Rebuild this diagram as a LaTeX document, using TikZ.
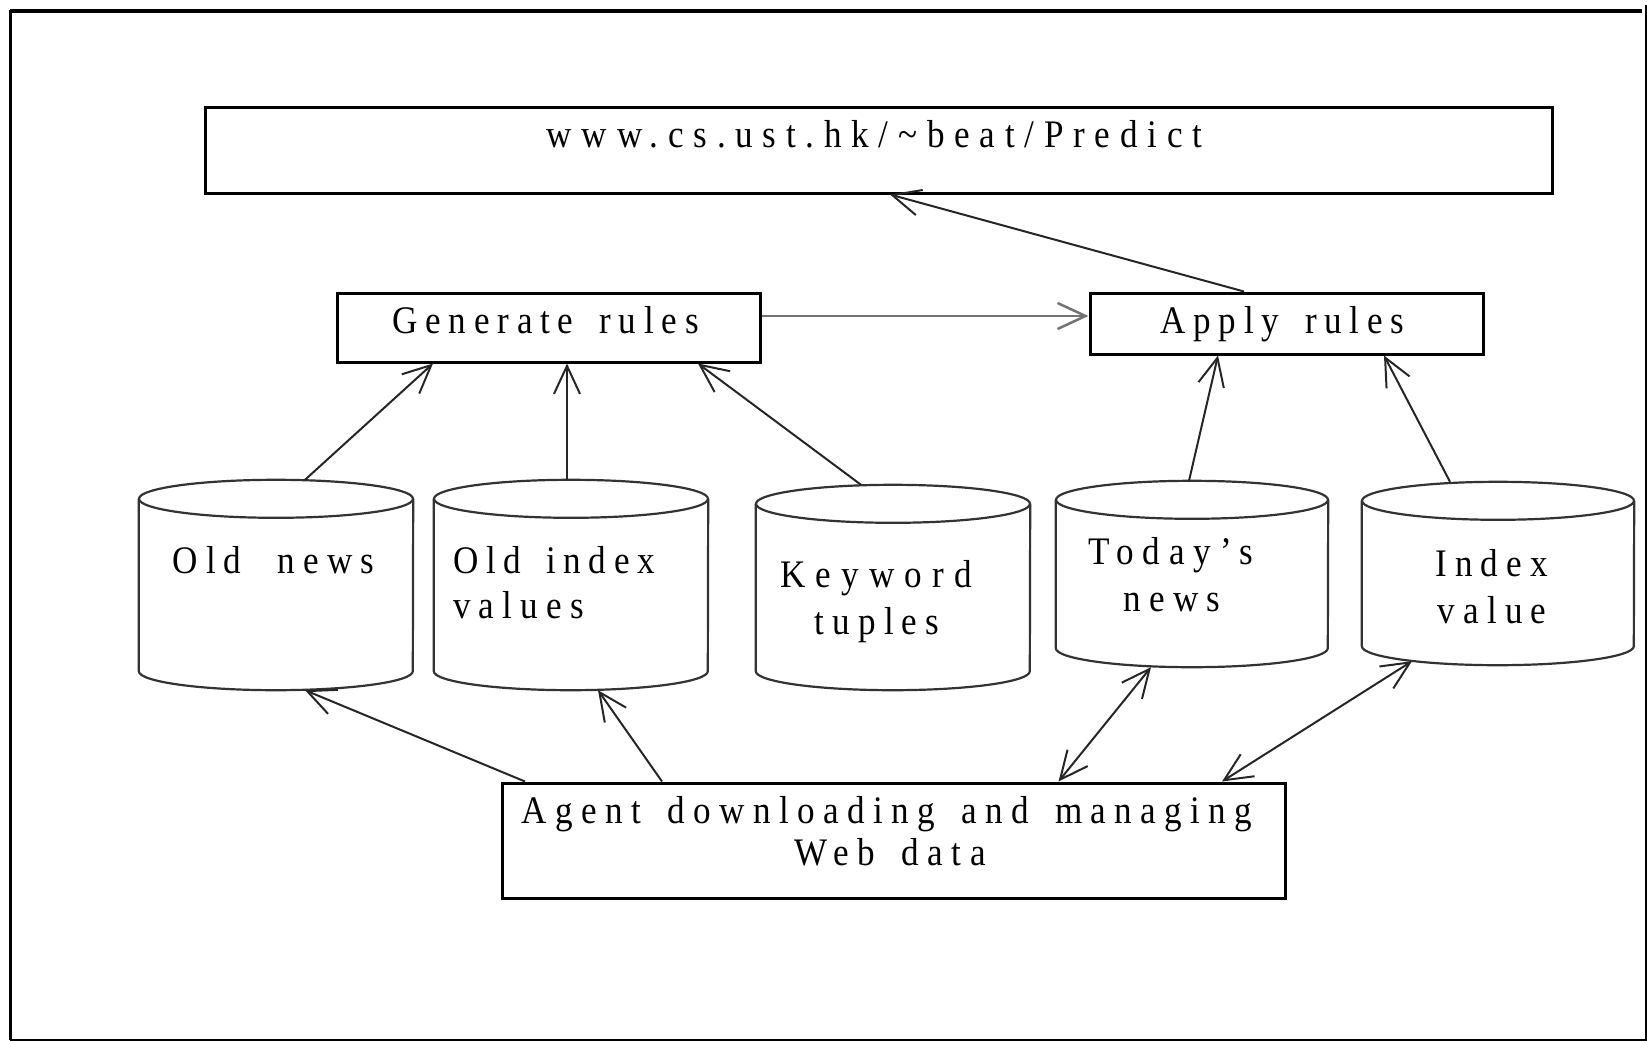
\documentclass[tikz,border=0pt]{standalone}
\usepackage{fontspec}
\setmainfont{Liberation Serif}[FakeStretch=0.9]
\newfontfamily\labfont{Liberation Serif}[FakeStretch=0.9, WordSpace=1.55, Ligatures=TeX]
\usetikzlibrary{arrows.meta,calc}

% cylinder outline drawn around an invisible node: #1 node name, #2 half width
\newcommand\drawcyl[2]{%
  \draw[cylline] ([yshift=-19pt]#1.north) ellipse [x radius=#2pt, y radius=19pt];
  \draw[cylline] ([yshift=-19pt]#1.north west) -- ([yshift=19pt]#1.south west)
    arc[start angle=180, end angle=360, x radius=#2pt, y radius=19pt]
    -- ([yshift=-19pt]#1.north east);
}

\begin{document}
\begin{tikzpicture}[x=1pt,y=-1pt,
  box/.style={draw=black, line width=3pt, inner sep=0pt, rectangle},
  cylbox/.style={inner sep=0pt, rectangle},
  cylline/.style={draw=black!80, line width=2.2pt},
  lab/.style={inner sep=0pt, anchor=base,
    font=\labfont\addfontfeature{LetterSpace=#1}\fontsize{39}{46}\selectfont},
  lab/.default=21,
  conn/.style={draw=black!85, line width=2pt,
    -{Straight Barb[length=28pt,width=26pt]}},
  twoway/.style={conn,
    {Straight Barb[length=28pt,width=26pt]}-{Straight Barb[length=28pt,width=26pt]}},
]
\useasboundingbox (0,0) rectangle (1647,1041);

% outer frame
\draw[line width=3.5pt] (9.5,11) -- (1642,11);
\draw[line width=2.7pt] (10.7,10) -- (10.7,1040);
\draw[line width=2pt] (1646,5) -- (1646,1041);
\draw[line width=1.5pt] (10,1040.2) -- (1647,1040.2);

% boxes
\node[box, minimum width=1347pt, minimum height=86pt] (web) at (878.5,150) {};
\node[box, minimum width=423pt, minimum height=69pt] (gen) at (548.5,327.5) {};
\node[box, minimum width=393pt, minimum height=61pt] (app) at (1286.5,323.5) {};
\node[box, minimum width=783pt, minimum height=115pt] (agt) at (893.5,840.5) {};

% data stores
\node[cylbox, minimum width=274pt, minimum height=210pt] (on) at (276,585) {};
\node[cylbox, minimum width=274pt, minimum height=210pt] (oi) at (571,585) {};
\node[cylbox, minimum width=274pt, minimum height=205pt] (kw) at (893,587.5) {};
\node[cylbox, minimum width=272pt, minimum height=186pt] (tn) at (1192,574) {};
\node[cylbox, minimum width=272pt, minimum height=183pt] (iv) at (1498,573.5) {};
\drawcyl{on}{137}
\drawcyl{oi}{137}
\drawcyl{kw}{137}
\drawcyl{tn}{136}
\drawcyl{iv}{136}

% labels
\node[lab=25] (webt) at (874.5,147) {www.cs.ust.hk/\textasciitilde beat/Predict};
\node[lab=20] (gent) at (545.5,333) {Generate rules};
\node[lab=20] (appt) at (1282.5,333) {Apply rules};
\node[lab=21.5] (agt1) at (887,823) {Agent downloading and managing};
\node[lab=22] (agt2) at (890,865) {Web data};
\node[lab] (ont) at (273.5,573) {Old \hspace{10pt}news};
\node[lab=19.5, anchor=base west] (oi1) at (453,573) {Old index};
\node[lab, anchor=base west] (oi2) at (453,618) {values};
\node[lab=26] (kw1) at (876,587) {Keyword};
\node[lab] (kw2) at (877,634) {tuples};
\node[lab=23] (tn1) at (1170.5,564) {Today’s};
\node[lab] (tn2) at (1172,611) {news};
\node[lab] (iv1) at (1491.5,576) {Index};
\node[lab] (iv2) at (1492,623) {value};

% connectors
\draw[conn, draw=black!55, line width=2.5pt] ([yshift=11.5pt]gen.east) -- ([yshift=7.5pt]app.west);
\draw[conn] ([xshift=-42.5pt]app.north) -- ([xshift=11.5pt]web.south);
\draw[conn] ([xshift=29pt]on.north) -- ([xshift=-115.5pt]gen.south);
\draw[conn] ([xshift=-4pt]oi.north) -- ([xshift=18.5pt]gen.south);
\draw[conn] ([xshift=-32pt]kw.north) -- ([xshift=149.5pt]gen.south);
\draw[conn] ([xshift=-3pt]tn.north) -- ([xshift=-68.5pt]app.south);
\draw[conn] ([xshift=-48pt]iv.north) -- ([xshift=97.5pt]app.south);
\draw[conn] ([xshift=-368.5pt]agt.north) -- ([xshift=29pt]on.south);
\draw[conn] ([xshift=-231.5pt]agt.north) -- ([xshift=27pt]oi.south);
\draw[twoway] ([xshift=165pt]agt.north) -- ([xshift=-41pt]tn.south);
\draw[twoway] ([xshift=328.5pt]agt.north) -- ([xshift=-86pt,yshift=4pt]iv.south);
\end{tikzpicture}
\end{document}
